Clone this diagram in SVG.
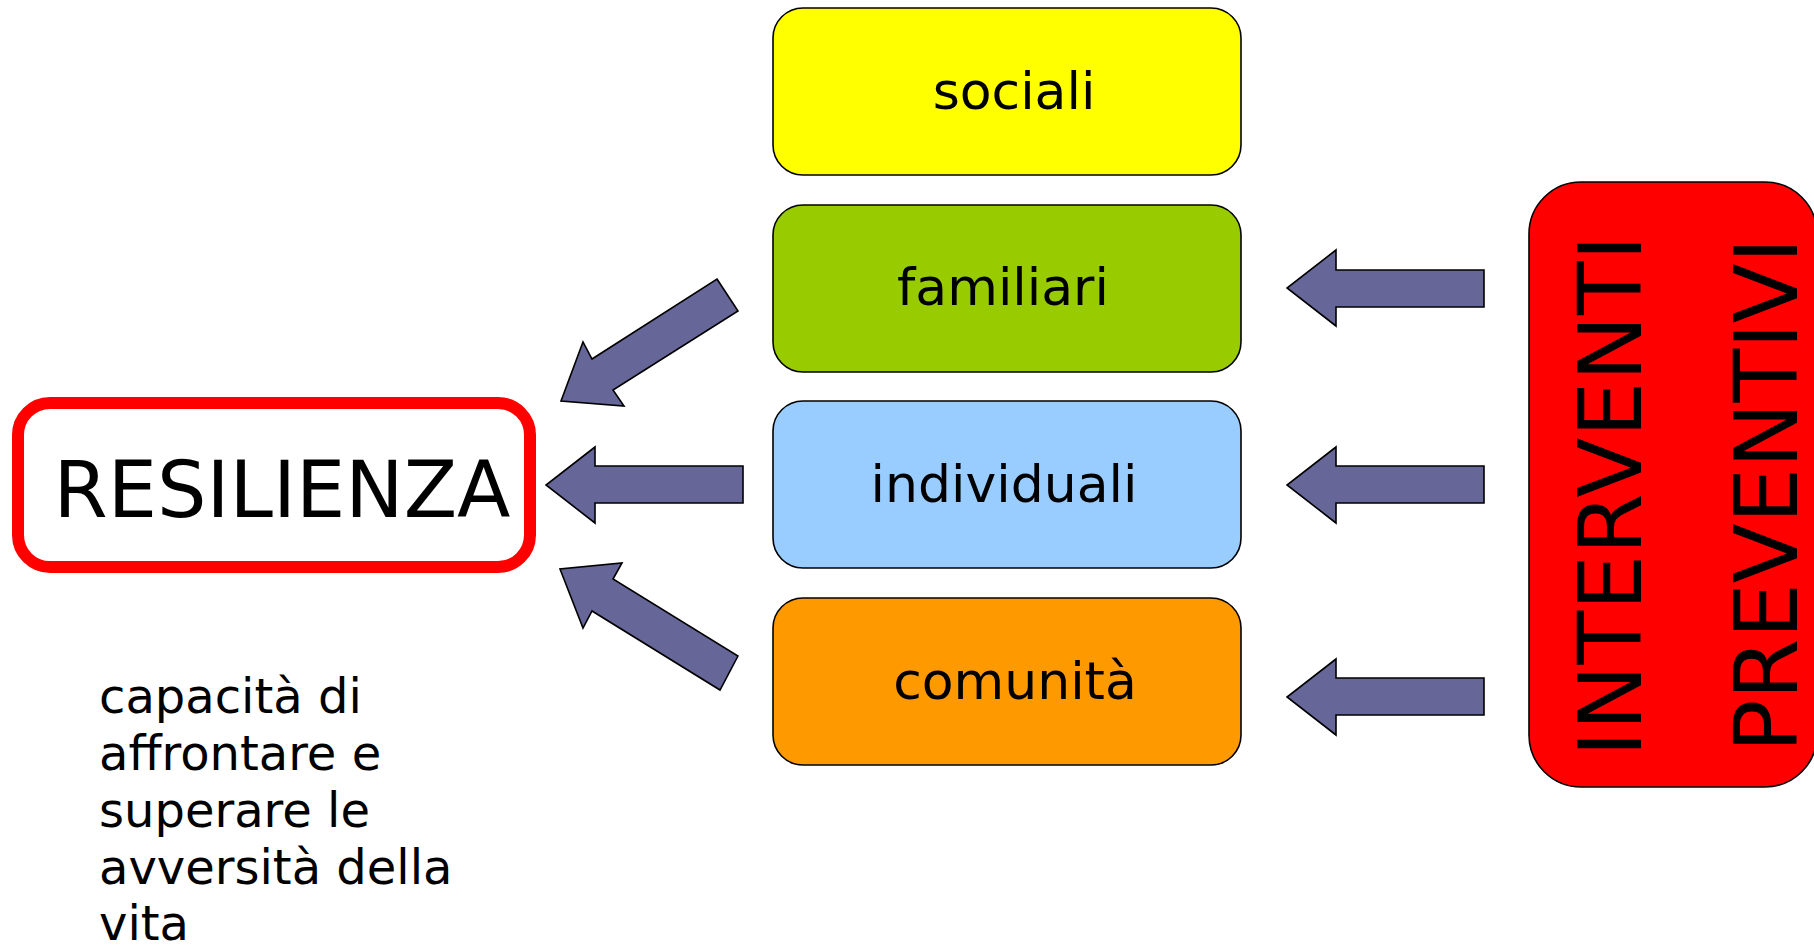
<svg xmlns="http://www.w3.org/2000/svg" width="1814" height="946" viewBox="0 0 1814 946">
<style>
.box{stroke:#000;stroke-width:1.6}
.lbl{font-family:"DejaVu Sans","Verdana",sans-serif;font-size:52px;fill:#000;text-anchor:middle}
.arr{fill:#666699;stroke:#000;stroke-width:1.6;stroke-linejoin:miter}
.big{font-family:"DejaVu Sans","Verdana",sans-serif;fill:#000}
</style>
<rect width="1814" height="946" fill="#fff"/>
<g id="resilienza">
<rect x="18" y="403" width="512" height="164" rx="32" fill="#fff" stroke="#ff0000" stroke-width="12"/>
<text class="big" x="282" y="517" font-size="78" text-anchor="middle">RESILIENZA</text>
</g>
<g id="sociali">
<rect class="box" x="773" y="8" width="468" height="167" rx="30" fill="#ffff00"/>
<text class="lbl" x="1014" y="109">sociali</text>
</g>
<g id="familiari">
<rect class="box" x="773" y="205" width="468" height="167" rx="30" fill="#99cc00"/>
<text class="lbl" x="1003" y="305">familiari</text>
</g>
<g id="individuali">
<rect class="box" x="773" y="401" width="468" height="167" rx="30" fill="#99ccff"/>
<text class="lbl" x="1004" y="502">individuali</text>
</g>
<g id="comunita">
<rect class="box" x="773" y="598" width="468" height="167" rx="30" fill="#ff9900"/>
<text class="lbl" x="1015" y="699">comunità</text>
</g>
<g id="interventi">
<rect class="box" x="1529" y="182" width="288" height="605" rx="52" fill="#ff0000"/>
<text class="big" font-size="88" text-anchor="middle" textLength="522" lengthAdjust="spacing" transform="translate(1641,496) rotate(-90)">INTERVENTI</text>
<text class="big" font-size="88" text-anchor="middle" textLength="515" lengthAdjust="spacing" transform="translate(1797,495) rotate(-90)">PREVENTIVI</text>
</g>
<g id="descrizione">
<text class="big" font-size="48" x="99">
<tspan x="99" y="713">capacità di</tspan>
<tspan x="99" y="770">affrontare e</tspan>
<tspan x="99" y="827">superare le</tspan>
<tspan x="99" y="884">avversità della</tspan>
<tspan x="99" y="940">vita</tspan>
</text>
</g>
<g id="connectors">
<polygon class="arr" points="717,279 738,311 613,390 624,406 561,401 583,342 592,359"/>
<polygon class="arr" points="743,466 595,466 595,447 546,485 595,523 595,503 743,503"/>
<polygon class="arr" points="738,656 720,690 592,611 583,628 560,569 622,563 613,579"/>
<polygon class="arr" points="1484,270 1336,270 1336,250 1287,288 1336,326 1336,307 1484,307"/>
<polygon class="arr" points="1484,466 1336,466 1336,447 1287,485 1336,523 1336,503 1484,503"/>
<polygon class="arr" points="1484,678 1336,678 1336,659 1287,697 1336,735 1336,715 1484,715"/>
</g>
</svg>
